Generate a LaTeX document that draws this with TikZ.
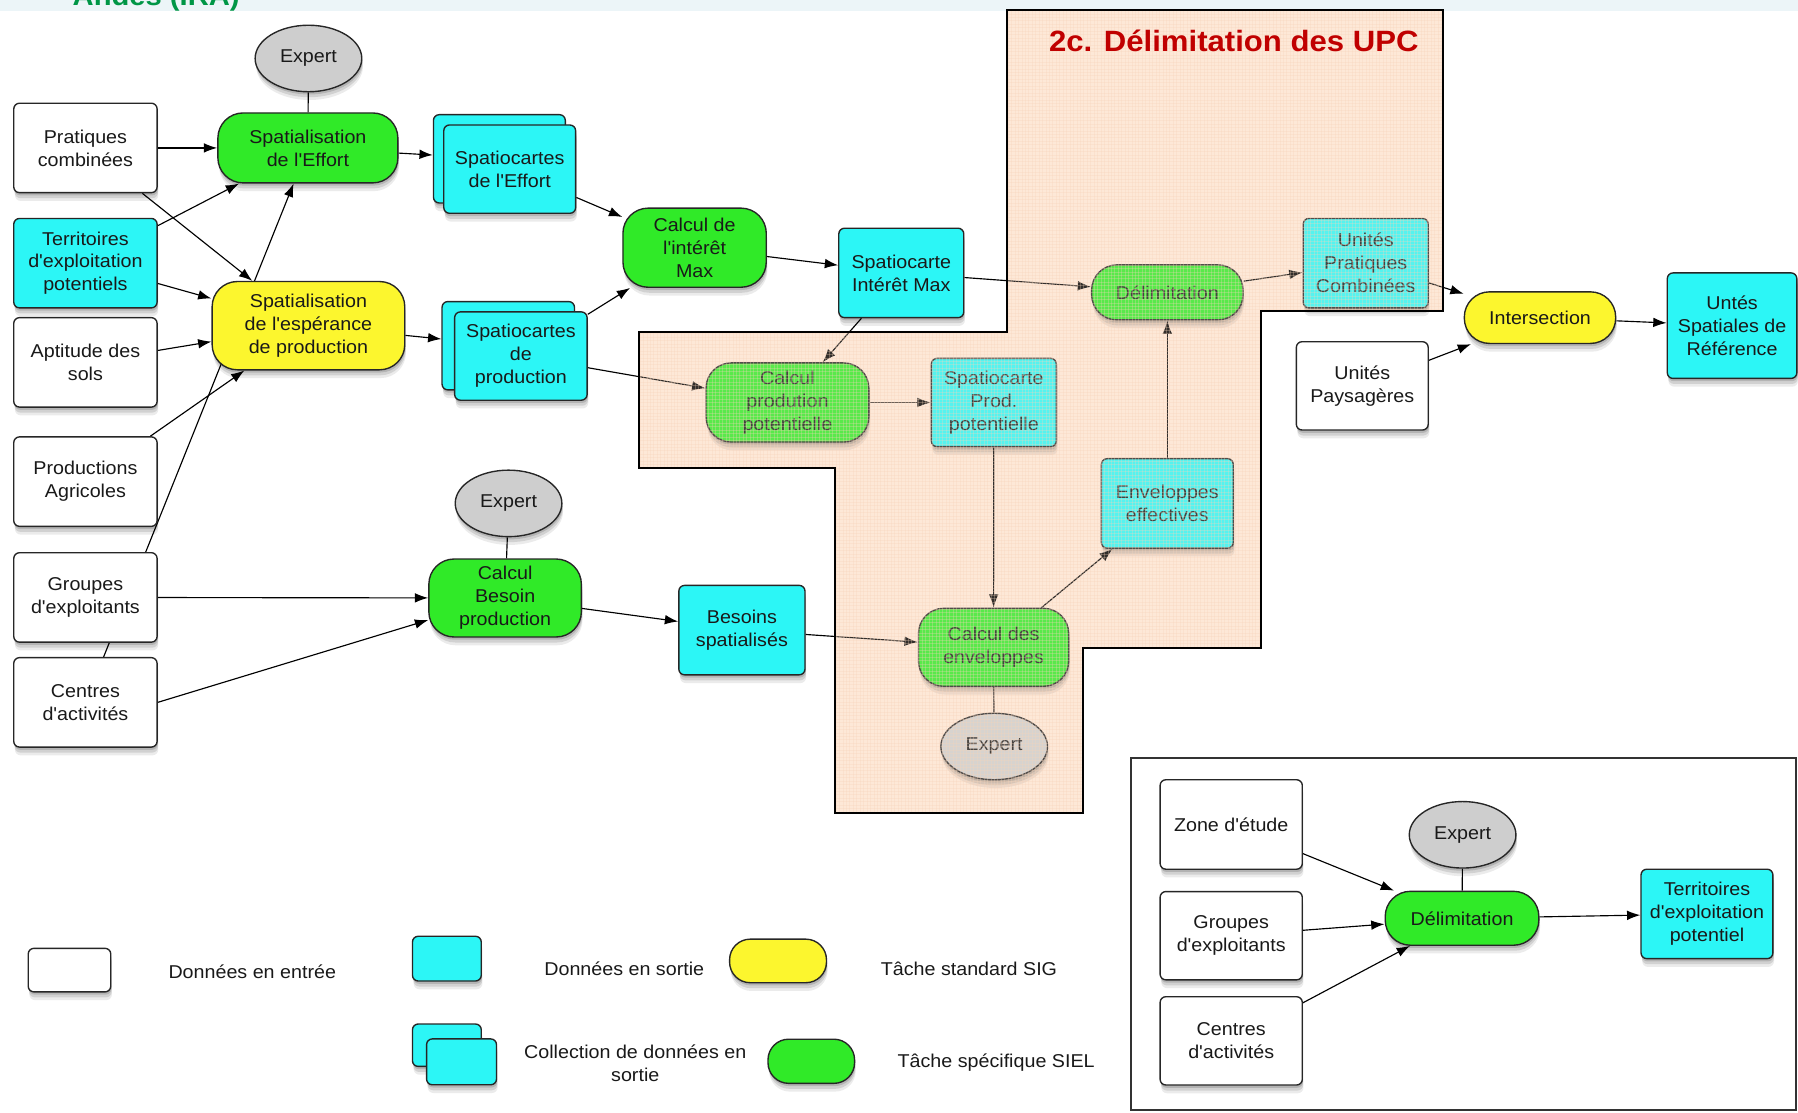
\documentclass[tikz,border=0pt]{standalone}
\usepackage{fontspec}
\setmainfont{Liberation Sans}[FakeStretch=1.06, Ligatures=TeXOff]
\usetikzlibrary{arrows.meta,shapes.geometric,shadows}

\definecolor{incyan}{RGB}{44,246,246}
\definecolor{ingreen}{RGB}{48,234,40}
\definecolor{inyellow}{RGB}{252,246,46}
\definecolor{expgray}{RGB}{206,206,206}
\definecolor{peach}{RGB}{253,232,215}
\definecolor{gridline}{RGB}{247,212,186}
\definecolor{titlered}{RGB}{192,0,0}
\definecolor{stripblue}{RGB}{236,245,248}
\definecolor{headgreen}{RGB}{0,150,70}
\definecolor{ink}{RGB}{25,25,25}

\pgfdeclarelayer{zone}
\pgfdeclarelayer{links}
\pgfdeclarelayer{veil}
\pgfsetlayers{zone,links,main,veil}

\begin{document}
\begin{tikzpicture}[x=0.5pt,y=-0.5pt,
  every node/.style={font=\fontsize{8.1}{10}\selectfont, text=ink, align=center, inner sep=0pt},
  sz/.style 2 args={minimum width={(#1)*0.5pt}, minimum height={(#2)*0.5pt}},
  % soft shadow built from three stacked offsets
  shad/.style={
    drop shadow={shadow xshift=0.3pt, shadow yshift=-1.2pt, opacity=0.14, fill=black},
    drop shadow={shadow xshift=0.4pt, shadow yshift=-2.4pt, opacity=0.11, fill=black},
    drop shadow={shadow xshift=0.5pt, shadow yshift=-3.6pt, opacity=0.08, fill=black}},
  datain/.style={rectangle, rounded corners=2.5pt, draw=black!85, line width=0.6pt, fill=white, shad},
  dataout/.style={datain, fill=incyan},
  pill/.style={rectangle, rounded corners=11pt, draw=black!85, line width=0.6pt, shad},
  gistask/.style={pill, fill=inyellow},
  sieltask/.style={pill, fill=ingreen},
  expert/.style={ellipse, draw=black!85, line width=0.6pt, fill=expgray, sz={93}{58}, shad},
  arr/.style={draw=black, line width=0.5pt, -{Latex[length=5.8pt,width=4.2pt]}},
  tie/.style={draw=black, line width=0.5pt},
  zonepath/.style={insert path={(878,8.5) -- (1258.7,8.5) -- (1258.7,271.5) -- (1099.5,271.5)
     -- (1099.5,565) -- (944.5,565) -- (944.5,709.3) -- (728.5,709.3) -- (728.5,407.8)
     -- (557.6,407.8) -- (557.6,289.8) -- (878,289.8) -- cycle}},
]
\useasboundingbox (0,0) rectangle (1568,970);

% header strip with the clipped heading
\fill[stripblue] (0,0) rectangle (1568,10);
\begin{scope}
  \clip (0,0) rectangle (1568,10);
  \node[anchor=base west, font=\bfseries\fontsize{12}{12}\selectfont, text=headgreen] (head) at (63,5) {Andes (IRA)};
\end{scope}

% step 2c area and the inset frame
\begin{pgfonlayer}{zone}
  \fill[peach, zonepath];
  \fill[white, draw=black!80, line width=0.8pt] (986,661) rectangle (1566,968);
\end{pgfonlayer}

% input data
\node[datain, sz={125}{78}] (prat) at (74.5,129) {Pratiques\\combinées};
\node[dataout, sz={125}{78}] (terr) at (74.5,229.5) {Territoires\\d'exploitation\\potentiels};
\node[datain, sz={125}{78}] (apt) at (74.5,316) {Aptitude des\\sols};
\node[datain, sz={125}{78}] (prod) at (74.5,420) {Productions\\Agricoles};
\node[datain, sz={125}{78}] (grp) at (74.5,521) {Groupes\\d'exploitants};
\node[datain, sz={125}{78}] (ctr) at (74.5,612.5) {Centres\\d'activités};

% first tasks
\node[expert] (exp1) at (269,51) {Expert};
\node[sieltask, sz={157}{61}] (speff) at (268.5,129) {Spatialisation\\de l'Effort};
\node[gistask, sz={168}{77}] (spesp) at (269,284) {Spatialisation\\de l'espérance\\de production};

% collections
\node[dataout, sz={115}{77}] (spceffb) at (435.5,138.5) {};
\node[dataout, sz={115}{77}] (spceff) at (444.5,147.5) {Spatiocartes\\de l'Effort};
\node[dataout, sz={115.5}{77}] (spprodb) at (443.25,301.5) {};
\node[dataout, sz={115.5}{77}] (spprod) at (454.25,310.5) {Spatiocartes\\de\\production};

\node[sieltask, sz={125}{69}] (cint) at (605.75,216) {Calcul de\\l'intérêt\\Max};
\node[dataout, sz={109}{78}] (sim) at (786,238) {Spatiocarte\\Intérêt Max};
\node[sieltask, sz={132}{48}] (delim) at (1018,255) {Délimitation};
\node[dataout, sz={109}{78}] (upc) at (1191,229.5) {Unités\\Pratiques\\Combinées};
\node[gistask, sz={132}{45}] (inter) at (1343,277) {Intersection};
\node[dataout, sz={113}{92}] (usr) at (1510.5,284) {Untés\\Spatiales de\\Référence};
\node[datain, sz={115}{77}] (pays) at (1188,336.5) {Unités\\Paysagères};
\node[sieltask, sz={142}{69}] (cpp) at (686.7,351) {Calcul\\prodution\\potentielle};
\node[dataout, sz={109}{77}] (spp) at (866.7,351) {Spatiocarte\\Prod.\\potentielle};
\node[dataout, sz={115}{78}] (env) at (1018,439) {Enveloppes\\effectives};
\node[sieltask, sz={131}{68}] (cenv) at (866.5,564.5) {Calcul des\\enveloppes};
\node[expert] (exp3) at (867,651) {Expert};
\node[expert] (exp2) at (443.5,439) {Expert};
\node[sieltask, sz={133}{68}] (cbes) at (440.5,521.5) {Calcul\\Besoin\\production};
\node[dataout, sz={110}{78}] (bsp) at (647,549.5) {Besoins\\spatialisés};

% inset: delimitation of the potential territories
\node[datain, sz={124}{78}] (izone) at (1073.7,719) {Zone d'étude};
\node[datain, sz={124}{77}] (igrp) at (1073.7,816) {Groupes\\d'exploitants};
\node[datain, sz={124}{77}] (ictr) at (1073.7,907.7) {Centres\\d'activités};
\node[expert] (iexp) at (1275.5,728) {Expert};
\node[sieltask, sz={134}{47}] (idelim) at (1275,800.8) {Délimitation};
\node[dataout, sz={115}{78}] (iterr) at (1488.6,797) {Territoires\\d'exploitation\\potentiel};

% legend
\node[datain, sz={72}{38}] (lin) at (60.6,846) {};
\node (lintxt) at (220,847) {Données en entrée};
\node[dataout, sz={60}{39}] (lout) at (389.7,836) {};
\node (louttxt) at (544.4,845) {Données en sortie};
\node[gistask, sz={84.5}{38}, rounded corners=9pt] (lgis) at (678.5,838) {};
\node (lgistxt) at (845,845) {Tâche standard SIG};
\node[dataout, sz={60}{37}] (lcolb) at (389.7,911.5) {};
\node[dataout, sz={61}{40}] (lcol) at (402.5,926) {};
\node (lcoltxt) at (554,927) {Collection de données en\\sortie};
\node[sieltask, sz={75.5}{38.5}, rounded corners=9pt] (lsiel) at (707.5,925.5) {};
\node (lsieltxt) at (868.7,927) {Tâche spécifique SIEL};

% connectors
\begin{pgfonlayer}{links}
  \draw[arr] (prat) -- (speff);
  \draw[arr] (prat) -- (spesp);
  \draw[arr] (terr) -- (speff);
  \draw[arr] (terr) -- (spesp);
  \draw[arr] (apt) -- (spesp);
  \draw[arr] (prod) -- (spesp);
  \draw[arr] (ctr) -- (speff);
  \draw[tie] (exp1) -- (speff);
  \draw[arr] (speff) -- (spceffb);
  \draw[arr] (spesp) -- (spprodb);
  \draw[arr] (spceff) -- (cint);
  \draw[arr] (spprod) -- (cint);
  \draw[arr] (cint) -- (sim);
  \draw[arr] (sim) -- (delim);
  \draw[arr] (delim) -- (upc);
  \draw[arr] (upc) -- (inter);
  \draw[arr] (pays) -- (inter);
  \draw[arr] (inter) -- (usr);
  \draw[arr] (sim) -- (cpp);
  \draw[arr] (spprod) -- (cpp);
  \draw[arr] (cpp) -- (spp);
  \draw[arr] (spp) -- (cenv);
  \draw[arr] (bsp) -- (cenv);
  \draw[arr] (cenv) -- (env);
  \draw[arr] (env) -- (delim);
  \draw[tie] (cenv) -- (exp3);
  \draw[arr] (grp) -- (cbes);
  \draw[arr] (ctr.east) -- (cbes.196);
  \draw[tie] (exp2) -- (cbes);
  \draw[arr] (cbes) -- (bsp);
  \draw[arr] (izone) -- (idelim);
  \draw[arr] (igrp) -- (idelim);
  \draw[arr] (ictr) -- (idelim);
  \draw[arr] (idelim) -- (iterr);
  \draw[tie] (iexp) -- (idelim);
\end{pgfonlayer}

% hatched veil over step 2c
\begin{pgfonlayer}{veil}
  \begin{scope}
    \clip[zonepath];
    \fill[peach, opacity=0.2] (550,0) rectangle (1270,720);
    \draw[gridline, line width=0.18pt, opacity=0.3]
      \foreach \g in {558,561,...,1260} {(\g,8) -- (\g,712)};
    \draw[gridline, line width=0.18pt, opacity=0.3]
      \foreach \g in {9,12,...,711} {(556,\g) -- (1260,\g)};
  \end{scope}
  \draw[black, line width=0.8pt, zonepath];
  \node[font=\bfseries\fontsize{12.8}{14}\selectfont, text=titlered] (title) at (1076,36) {2c. Délimitation des UPC};
\end{pgfonlayer}
\end{tikzpicture}
\end{document}
